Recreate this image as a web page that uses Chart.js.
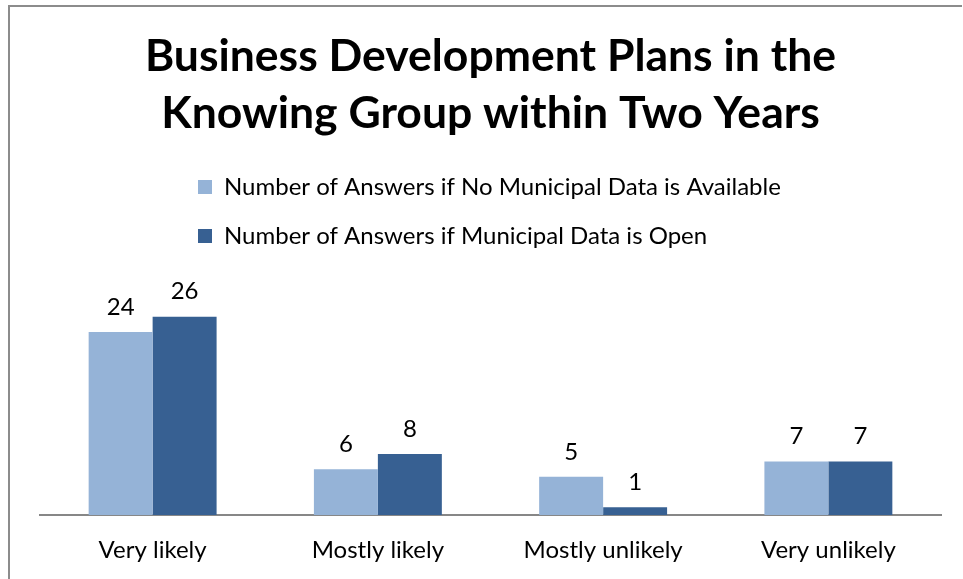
<!DOCTYPE html>
<html>
<head>
<meta charset="utf-8">
<script src="https://cdn.jsdelivr.net/npm/chart.js@4/dist/chart.umd.min.js"></script>
<style>
  html, body { margin: 0; padding: 0; background: #fff; }
  #wrap { position: relative; width: 963px; height: 579px; overflow: hidden; }
  #frame { position: absolute; left: 8px; top: 5px; width: 954px; height: 600px;
           border-top: 2px solid #8c8c8c; border-left: 2px solid #8c8c8c; box-sizing: border-box; }
  canvas { position: absolute; left: 0; top: 0; }
</style>
</head>
<body>
<div id="wrap">
  <div id="frame"></div>
  <canvas id="c" width="963" height="579"></canvas>
</div>
<script>
const titleLines = ["Business Development Plans in the", "Knowing Group within Two Years"];
const categories = ["Very likely", "Mostly likely", "Mostly unlikely", "Very unlikely"];
const seriesNames = ["Number of Answers if No Municipal Data is Available", "Number of Answers if Municipal Data is Open"];
const noDataValues = [24, 6, 5, 7];
const openDataValues = [26, 8, 1, 7];
const seriesColors = ["#95B3D7", "#376092"];

const FONT = "Lato, 'Open Sans', sans-serif";

const valueLabels = {
  id: 'valueLabels',
  afterDatasetsDraw(chart) {
    const ctx = chart.ctx;
    ctx.save();
    ctx.font = "24px " + FONT;
    ctx.fillStyle = "#000";
    ctx.textAlign = "center";
    ctx.textBaseline = "middle";
    chart.data.datasets.forEach((ds, i) => {
      const meta = chart.getDatasetMeta(i);
      meta.data.forEach((bar, j) => {
        ctx.fillText(String(ds.data[j]), bar.x, bar.y - 25);
      });
    });
    ctx.restore();
  }
};

const legendShift = {
  id: 'legendShift',
  afterLayout(chart) {
    if (chart.legend) { chart.legend.left = 173; }
  }
};

new Chart(document.getElementById('c'), {
  type: 'bar',
  data: {
    labels: categories,
    datasets: [
      { label: seriesNames[0], data: noDataValues, backgroundColor: seriesColors[0], borderWidth: 0 },
      { label: seriesNames[1], data: openDataValues, backgroundColor: seriesColors[1], borderWidth: 0 }
    ]
  },
  options: {
    responsive: false,
    animation: false,
    layout: { padding: { left: 40, right: 22, top: 0, bottom: 0 } },
    datasets: { bar: { categoryPercentage: 0.568, barPercentage: 1.0 } },
    plugins: {
      title: {
        display: true,
        text: titleLines,
        color: "#000",
        font: { family: FONT, size: 44.5, weight: 'bold', lineHeight: 1.281 },
        padding: { top: 28, bottom: 8 }
      },
      legend: {
        display: true,
        position: 'top',
        align: 'start',
        labels: {
          color: "#000",
          font: { family: FONT, size: 24 },
          boxWidth: 14,
          boxHeight: 14,
          padding: 25
        }
      },
      tooltip: { enabled: false }
    },
    scales: {
      x: {
        grid: { display: false, drawTicks: false },
        border: { display: true, color: "#878787", width: 2 },
        ticks: { color: "#000", font: { family: FONT, size: 24 }, padding: 21 },
        afterFit(scale) { scale.height = 64; }
      },
      y: {
        display: false,
        min: 0,
        max: 33.7
      }
    }
  },
  plugins: [valueLabels, legendShift]
});
</script>
</body>
</html>
